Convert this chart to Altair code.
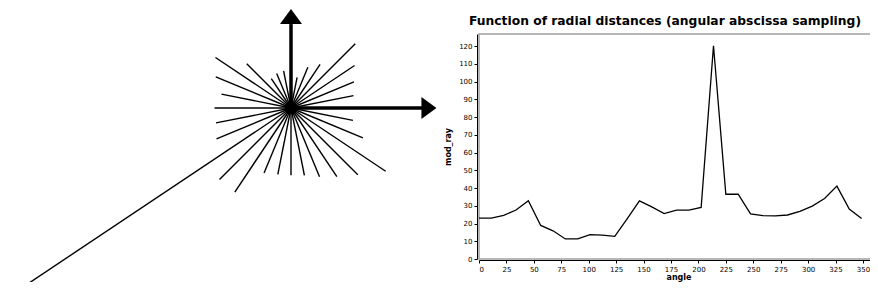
import altair as alt
import pandas as pd

# Data: radial distance (mod_ray) sampled every 11.25 degrees
angles = [0, 11.25, 22.5, 33.75, 45, 56.25, 67.5, 78.75, 90, 101.25, 112.5, 123.75,
          135, 146.25, 157.5, 168.75, 180, 191.25, 202.5, 213.75, 225, 236.25,
          247.5, 258.75, 270, 281.25, 292.5, 303.75, 315, 326.25, 337.5, 348.75]
mod_ray = [23.0, 23.0, 24.6, 27.6, 32.8, 18.9, 15.9, 11.3, 11.3, 13.7, 13.5, 12.8,
           22.6, 32.8, 29.4, 25.6, 27.6, 27.6, 29.1, 120.2, 36.5, 36.5,
           25.4, 24.4, 24.3, 24.8, 26.9, 29.8, 34.1, 41.1, 28.1, 22.8]
x_ticks = [0, 25, 50, 75, 100, 125, 150, 175, 200, 225, 250, 275, 300, 325, 350]
y_ticks = [0, 10, 20, 30, 40, 50, 60, 70, 80, 90, 100, 110, 120]
title_text = "Function of radial distances (angular abscissa sampling)"

df = pd.DataFrame({"angle": angles, "mod_ray": mod_ray})

# ---- layout (pixels) ----
PLOT_W, PLOT_H = 399, 225
PAD = {"left": 471, "top": 26, "right": -8, "bottom": 23}
PX = 2.77                 # pixels per radial unit in the star drawing
STAR_CX, STAR_CY = -188, 74   # star centre relative to the plot's top-left corner
TITLE_X, TITLE_Y = 186, -9    # title anchor relative to the plot's top-left corner

xs = alt.Scale(domain=[-100, 100], range=[STAR_CX - 100 * PX, STAR_CX + 100 * PX],
               nice=False, zero=False)
ys = alt.Scale(domain=[-100, 100], range=[STAR_CY + 100 * PX, STAR_CY - 100 * PX],
               nice=False, zero=False)

# ---- star of rays ----
rays = alt.Chart(df).transform_calculate(
    x0="0", y0="0",
    x1="datum.mod_ray * cos(datum.angle * PI / 180)",
    y1="datum.mod_ray * sin(datum.angle * PI / 180)",
).mark_rule(color="black", strokeWidth=1.4).encode(
    x=alt.X("x0:Q", scale=xs, axis=None),
    y=alt.Y("y0:Q", scale=ys, axis=None),
    x2="x1:Q", y2="y1:Q",
)

# arrows (style constants, in radial units)
arrows = pd.DataFrame({"x0": [0, 0], "y0": [0, 0], "x1": [0, 47.7], "y1": [30.3, 0]})
shafts = alt.Chart(arrows).mark_rule(color="black", strokeWidth=3.5).encode(
    x=alt.X("x0:Q", scale=xs, axis=None), y=alt.Y("y0:Q", scale=ys, axis=None),
    x2="x1:Q", y2="y1:Q")

head_up = alt.Chart(pd.DataFrame({"x0": [0], "y0": [33.0]})).mark_point(
    shape="M-1,0.68L0,-0.68L1,0.68Z", size=484, filled=True, color="black", opacity=1
).encode(x=alt.X("x0:Q", scale=xs, axis=None), y=alt.Y("y0:Q", scale=ys, axis=None))
head_right = alt.Chart(pd.DataFrame({"x0": [49.8], "y0": [0]})).mark_point(
    shape="M-0.68,-1L0.68,0L-0.68,1Z", size=484, filled=True, color="black", opacity=1
).encode(x=alt.X("x0:Q", scale=xs, axis=None), y=alt.Y("y0:Q", scale=ys, axis=None))
hub = alt.Chart(pd.DataFrame({"x0": [0], "y0": [0]})).mark_point(
    shape="circle", size=150, filled=True, color="black", opacity=1
).encode(x=alt.X("x0:Q", scale=xs, axis=None), y=alt.Y("y0:Q", scale=ys, axis=None))

star = alt.layer(rays, shafts, head_up, head_right, hub)

# ---- line chart ----
line = alt.Chart(df).mark_line(color="black", strokeWidth=1.3).encode(
    x=alt.X("angle:Q", scale=alt.Scale(domain=[0, 363.7], nice=False),
            axis=alt.Axis(values=x_ticks, title="angle", orient="bottom", offset=1,
                          titleY=21, titleBaseline="bottom")),
    y=alt.Y("mod_ray:Q", scale=alt.Scale(domain=[0, 126.8], nice=False),
            axis=alt.Axis(values=y_ticks, title="mod_ray", orient="left", offset=2,
                          titleX=-28.5, titleBaseline="middle")),
)

# ---- chart title (real text) ----
title = alt.Chart(pd.DataFrame({"t": [title_text]})).mark_text(
    font="DejaVu Sans", fontSize=12.3, fontWeight="bold", color="black",
    align="center", baseline="alphabetic",
).encode(text="t:N", x=alt.value(TITLE_X), y=alt.value(TITLE_Y))

chart = alt.layer(line, star, title).resolve_scale(
    x="independent", y="independent"
).properties(
    width=PLOT_W, height=PLOT_H,
    autosize=alt.AutoSizeParams(type="none"),
    padding=PAD,
    view=alt.ViewBackground(stroke="#a0a0a0", strokeWidth=1.5),
).configure_axis(
    grid=False, domainColor="black", tickColor="black", tickSize=3,
    labelFont="DejaVu Sans", labelFontSize=7, labelColor="black", labelPadding=2,
    titleFont="DejaVu Sans", titleFontSize=8, titleFontWeight="bold", titleColor="black",
)

chart.save("out.html", embed_options={"renderer": "svg", "actions": False})
